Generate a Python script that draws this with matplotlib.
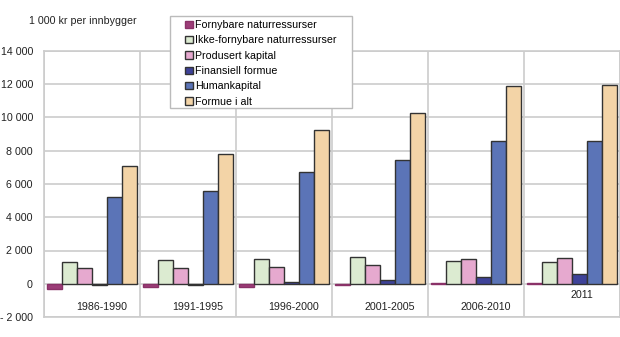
import matplotlib
matplotlib.use("Agg")
import matplotlib.pyplot as plt
import numpy as np
from matplotlib.patches import Rectangle
from matplotlib.ticker import FuncFormatter

plt.rcParams['font.family'] = ['Liberation Sans', 'DejaVu Sans']

# 1 000 kr per innbygger
perioder = ['1986-1990', '1991-1995', '1996-2000', '2001-2005', '2006-2010', '2011']
fornybare = [-300, -200, -180, -60, 20, 20]
ikke_fornybare = [1280, 1420, 1500, 1620, 1380, 1300]
produsert = [940, 950, 1020, 1120, 1460, 1540]
finansiell = [-50, -50, 80, 200, 400, 600]
humankapital = [5200, 5580, 6720, 7460, 8580, 8580]
formue_i_alt = [7100, 7780, 9225, 10260, 11880, 11960]

serier = [
    ('Fornybare naturressurser', fornybare, '#9C3D78', '#8A3268'),
    ('Ikke-fornybare naturressurser', ikke_fornybare, '#DCEBD1', '#333333'),
    ('Produsert kapital', produsert, '#E6A9CF', '#333333'),
    ('Finansiell formue', finansiell, '#3E4299', '#333333'),
    ('Humankapital', humankapital, '#5B74B7', '#333333'),
    ('Formue i alt', formue_i_alt, '#F3D4A7', '#333333'),
]

W, H = 620, 337
fig = plt.figure(figsize=(W / 100, H / 100), dpi=100)
ax = fig.add_axes([44 / W, 1 - 317 / H, 576 / W, 266 / H])

grid_col = '#CCCCCC'
for y in range(-2000, 14001, 2000):
    ax.axhline(y, color=grid_col, lw=1.2, zorder=0)
for x in range(0, 7):
    ax.axvline(x, color=grid_col, lw=1.2, zorder=0)

w = 0.156
x0 = np.arange(len(perioder)) + 0.5
for i, (navn, verdier, farge, kant) in enumerate(serier):
    pos = x0 + (i - 2.5) * w
    ax.bar(pos, verdier, width=w, color=farge, edgecolor=kant, linewidth=1.0,
           label=navn, zorder=3)

# periode-etiketter nederst i hver gruppe
for i, p in enumerate(perioder):
    yy = -660 if p == '2011' else -1400
    ax.text(x0[i] + 0.1, yy, p, ha='center', va='center', fontsize=7.7, color='#222222')

ax.set_xlim(0, 6)
ax.set_ylim(-2000, 14000)
ax.set_xticks([])
ax.set_yticks(range(-2000, 14001, 2000))


def fmt(v, pos):
    v = int(round(v))
    if v == 0:
        return '0'
    s = f'{abs(v):,}'.replace(',', ' ')
    return ('- ' + s) if v < 0 else s


ax.yaxis.set_major_formatter(FuncFormatter(fmt))
ax.tick_params(axis='y', length=0, pad=8, labelsize=7.7, labelcolor='#222222')
for sp in ax.spines.values():
    sp.set_color(grid_col)
    sp.set_linewidth(1.2)

fig.text(29 / W, 1 - 20.7 / H, '1 000 kr per innbygger', fontsize=7.7,
         va='center', ha='left', color='#222222')

# hvit legendeboks med grå kant
boks = Rectangle((170 / W, 1 - 108 / H), 182 / W, 92 / H, transform=fig.transFigure,
                 facecolor='white', edgecolor='#BBBBBB', linewidth=1.0,
                 zorder=9, clip_on=False)
ax.add_patch(boks)

leg = ax.legend(loc='upper left', bbox_to_anchor=(184 / W, 1 - 19 / H),
                bbox_transform=fig.transFigure, fontsize=7.7, frameon=False,
                handlelength=0.7, handleheight=0.7, handletextpad=0.25,
                labelspacing=0.5, borderpad=0.1, borderaxespad=0)
leg.set_zorder(10)

fig.savefig('out.png', dpi=100)
